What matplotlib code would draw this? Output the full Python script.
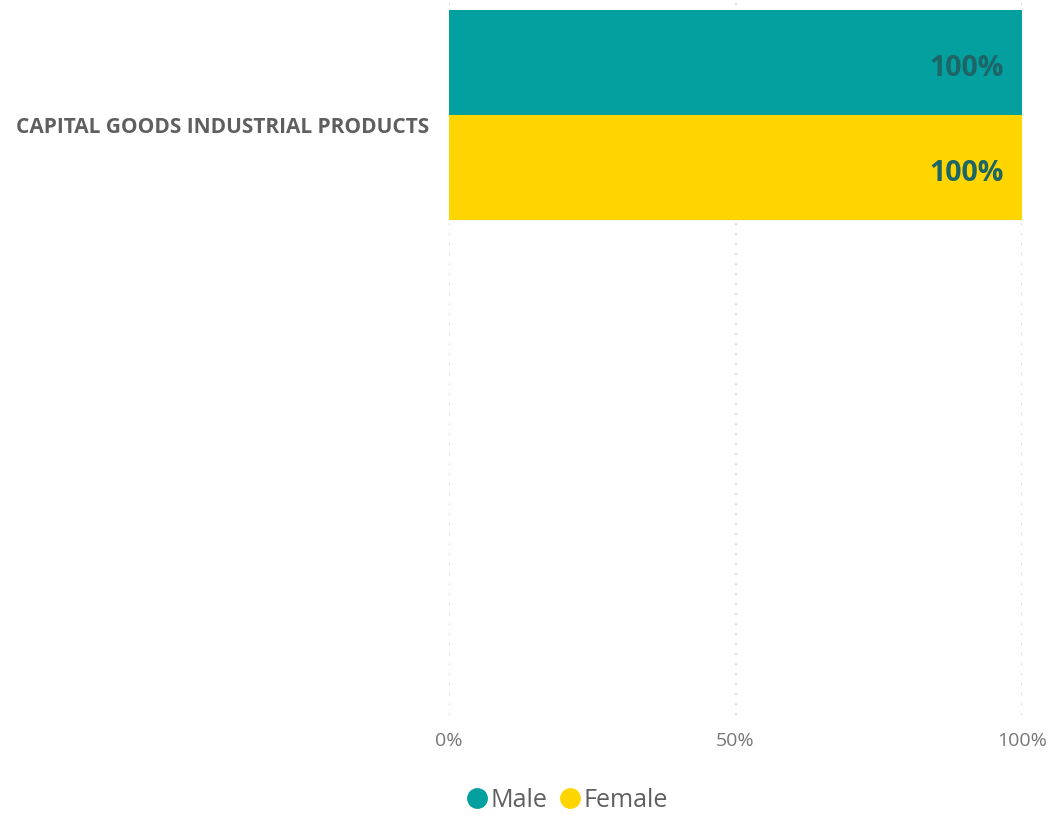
import matplotlib

matplotlib.use("Agg")
import matplotlib.pyplot as plt
import matplotlib.transforms as mtransforms
from matplotlib.lines import Line2D
from matplotlib.ticker import PercentFormatter

categories = ["CAPITAL GOODS INDUSTRIAL PRODUCTS"]
series = ["Male", "Female"]
male = [100]
female = [100]
xticks = [0, 50, 100]

TEAL = "#03A09F"
YELLOW = "#FFD500"
LABEL = "#1D6566"
GRID = "#C8C8C8"
TEXT = "#5F5F5F"

plt.rcParams["font.family"] = ["Open Sans", "DejaVu Sans"]

W, H = 1048, 822
fig = plt.figure(figsize=(W / 100, H / 100), dpi=100)
# axes in pixel terms: left 449, right 1022, top 0, bottom 715
ax = fig.add_axes([449 / W, 1 - 715 / H, (1022 - 449) / W, 715 / H])

bar_h = 0.5
px_per_unit = 210  # two bars together span 1 unit = 210 px
ys = range(len(categories))
colors = [TEAL, YELLOW]
for k, (name, vals) in enumerate(zip(series, [male, female])):
    pos = [y - 0.5 + bar_h * (k + 0.5) for y in ys]
    bars = ax.barh(pos, vals, height=bar_h, color=colors[k], label=name, zorder=2)
    for b, v in zip(bars, vals):
        ax.annotate(f"{v:.0f}%", (b.get_width(), b.get_y() + b.get_height() / 2),
                    xytext=(-13, -4.5), textcoords="offset points",
                    ha="right", va="center", fontsize=20.5, fontweight="bold",
                    color=LABEL, zorder=3)

top = -0.5 - 10 / px_per_unit
bottom = 0.5 + (715 - 220) / px_per_unit
ax.set_ylim(bottom, top)
ax.set_xlim(0, 100)

ax.set_xticks(xticks)
ax.xaxis.set_major_formatter(PercentFormatter(decimals=0))
ax.set_yticks(list(ys))
ax.set_yticklabels(categories, fontsize=15, fontweight="bold", color=TEXT)
ax.tick_params(axis="y", length=0, pad=14)
ax.tick_params(axis="x", length=0, pad=12, labelsize=14, labelcolor="#777777")
off = mtransforms.ScaledTranslation(0, -10 / 100, fig.dpi_scale_trans)
for lab in ax.get_yticklabels():
    lab.set_transform(lab.get_transform() + off)

ax.grid(axis="x", color=GRID, linestyle=(0, (1, 5)), linewidth=1.2, zorder=0)
for s in ax.spines.values():
    s.set_visible(False)

handles = [Line2D([], [], marker="o", linestyle="", markersize=14,
                  markerfacecolor=c, markeredgecolor=c) for c in colors]
fig.legend(handles, series, loc="center", bbox_to_anchor=(565 / W, 1 - 800 / H),
           ncol=2, frameon=False, fontsize=18, labelcolor=TEXT,
           handletextpad=-0.05, columnspacing=0.3, handlelength=1.2)

fig.savefig("out.png", facecolor="white")
